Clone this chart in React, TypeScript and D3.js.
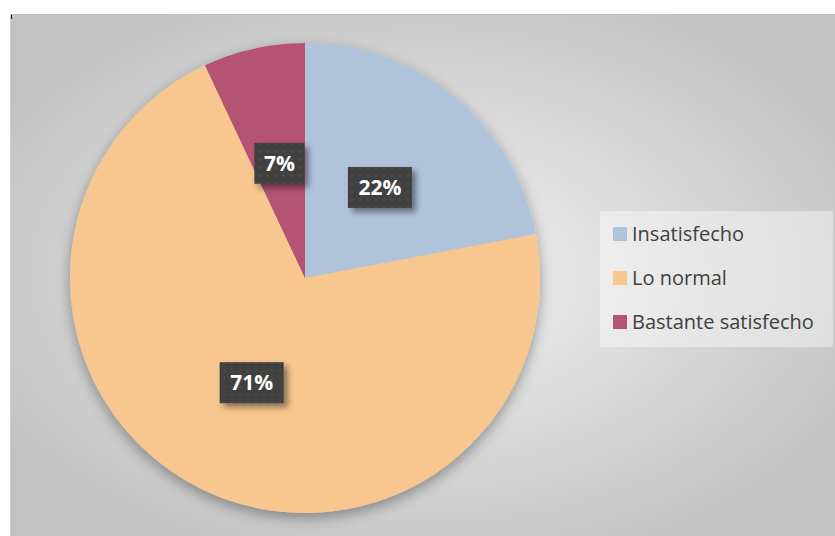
import React from 'react'
import * as d3 from 'd3'

const categories = ['Insatisfecho', 'Lo normal', 'Bastante satisfecho']
const values = [22, 71, 7]
const labels = ['22%', '71%', '7%']
const colors = ['#B1C3DB', '#F7C78F', '#B45373']

export default function App() {
  const width = 835
  const height = 536
  const cx = 305
  const cy = 278
  const r = 235

  const pie = d3.pie<number>().sort(null).value(d => d)
  const arcs = pie(values)
  const arc = d3.arc<d3.PieArcDatum<number>>().innerRadius(0).outerRadius(r)

  const legendX = 600
  const legendY = 211
  const rowH = 44

  return (
    <svg width={width} height={height} style={{ position: 'absolute', left: 0, top: 0 }}
      fontFamily="'Open Sans', sans-serif">
      <defs>
        <radialGradient id="bg" cx="50%" cy="50%" r="60%">
          <stop offset="0%" stopColor="#f2f2f2" />
          <stop offset="100%" stopColor="#c2c2c2" />
        </radialGradient>
        <filter id="pieShadow" x="-20%" y="-20%" width="140%" height="150%">
          <feDropShadow dx="0" dy="5" stdDeviation="7" floodColor="#000" floodOpacity="0.35" />
        </filter>
        <filter id="boxShadow" x="-30%" y="-30%" width="170%" height="180%">
          <feDropShadow dx="4" dy="4" stdDeviation="3" floodColor="#000" floodOpacity="0.45" />
        </filter>
        <pattern id="dots" width="8" height="8" patternUnits="userSpaceOnUse">
          <rect width="8" height="8" fill="#404040" />
          <circle cx="4" cy="4" r="1.6" fill="#4a4a4a" />
        </pattern>
      </defs>
      <rect x={0} y={0} width={width} height={height} fill="#fff" />
      <rect x={10} y={14} width={width - 10} height={height - 14} fill="url(#bg)" />
      <line x1={10} x2={width} y1={14.5} y2={14.5} stroke="#bdbdbd" />
      <line x1={10.5} x2={10.5} y1={14} y2={height} stroke="#cfcfcf" />
      <rect x={11} y={15} width={1} height={4} fill="#000" />

      <g transform={`translate(${cx},${cy})`}>
        <g filter="url(#pieShadow)">
          {arcs.map((a, i) => (
            <path key={categories[i]} d={arc(a) || ''} fill={colors[i]} />
          ))}
        </g>
        {arcs.map((a, i) => {
          const [lx, ly] = arc.centroid(a)
          const w = 22 + labels[i].length * 14
          const h = 41
          return (
            <g key={labels[i]} transform={`translate(${lx},${ly})`}>
              <rect x={-w / 2} y={-h / 2} width={w} height={h} fill="url(#dots)" filter="url(#boxShadow)" />
              <text textAnchor="middle" dy="0.36em" fill="#fff" fontSize={21} fontWeight="bold">
                {labels[i]}
              </text>
            </g>
          )
        })}
      </g>

      <rect x={legendX} y={legendY} width={233} height={136} fill="#fff" fillOpacity={0.4} />
      {categories.map((c, i) => (
        <g key={c} transform={`translate(${legendX + 13},${legendY + 23 + i * rowH})`}>
          <rect x={0} y={-7} width={14} height={14} fill={colors[i]} />
          <text x={19} dy="0.35em" fontSize={20} fill="#404040">{c}</text>
        </g>
      ))}
    </svg>
  )
}
